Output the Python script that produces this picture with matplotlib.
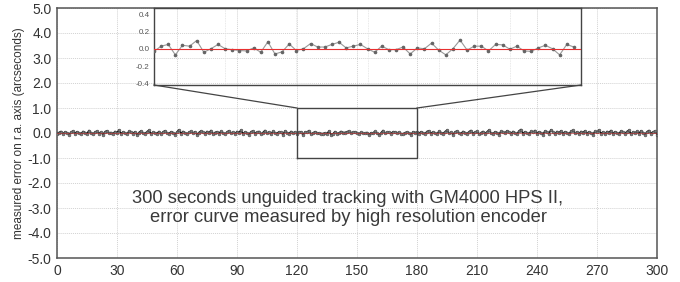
import matplotlib.pyplot as plt
import numpy as np

plt.rcParams['font.family'] = ['Liberation Sans', 'DejaVu Sans']

# error (arcsec) sampled once per second, t = 0 .. 300
err_start = [
	-0.05, 0.02, 0.06, -0.03, 0.04, 0.01, -0.06, 0.03, 0.08, -0.02, 0.05, 0.00, -0.04, 0.06, 0.02, -0.03, 0.10, 0.01, -0.05, 0.04,
	0.07, -0.02, 0.03, -0.06, 0.05, 0.09, -0.01, 0.02, -0.04, 0.06, 0.01, 0.12, -0.03, 0.04, 0.00, -0.05, 0.07, 0.03, -0.02, 0.05,
	-0.07, 0.02, 0.08, 0.00, -0.03, 0.05, 0.11, -0.04, 0.03, 0.01, -0.02, 0.06, -0.05, 0.04, 0.09, 0.00, -0.03, 0.05, 0.02, -0.06,
	0.04, 0.13, -0.02, 0.06, 0.01, -0.04, 0.03, 0.07, -0.01, 0.05, -0.06, 0.02, 0.08, 0.03, -0.03, 0.06, 0.00, 0.10, -0.04, 0.02,
	0.05, -0.02, 0.07, 0.01, -0.05, 0.04, 0.09, -0.01, 0.03, -0.04, 0.06, 0.02, 0.11, -0.03, 0.04, 0.00, -0.06, 0.05, 0.08, -0.02,
	0.03, 0.06, -0.04, 0.02, 0.10, -0.01, 0.04, -0.05, 0.07, 0.01, -0.02, 0.05, 0.03, -0.06, 0.08, 0.02, -0.03, 0.06, 0.00, 0.04,
]
# 120 .. 179 s, shown enlarged in the inset
err_zoom = [
	-0.03, 0.03, 0.05, -0.07, 0.04, 0.03, 0.095, -0.04, 0.0, 0.05,
	0.0, -0.01, -0.02, -0.025, 0.01, -0.04, 0.08, -0.06, -0.035, 0.055,
	-0.02, 0.0, 0.06, 0.02, 0.02, 0.05, 0.075, 0.01, 0.03, 0.05,
	0.0, -0.04, 0.03, -0.01, -0.01, 0.02, -0.06, 0.01, 0.0, 0.065,
	-0.015, -0.07, 0.0, 0.1, -0.015, 0.03, 0.03, -0.025, 0.05, 0.045,
	-0.005, 0.03, -0.025, -0.03, 0.01, 0.04, 0.0, -0.07, 0.05, 0.02,
]
err_end = [
	0.03, -0.02, 0.05, 0.01, -0.04, 0.06, 0.09, -0.02, 0.04, 0.00, -0.05, 0.07, 0.02, -0.03, 0.05, 0.11, -0.01, 0.03, -0.06, 0.04,
	0.08, 0.00, -0.03, 0.06, 0.02, -0.04, 0.05, 0.10, -0.02, 0.03, 0.07, -0.05, 0.01, 0.06, -0.02, 0.04, 0.12, 0.00, -0.04, 0.05,
	0.02, -0.06, 0.07, 0.03, -0.01, 0.09, 0.04, -0.03, 0.06, 0.01, -0.05, 0.08, 0.14, -0.02, 0.05, 0.00, -0.04, 0.07, 0.03, 0.10,
	-0.03, 0.05, 0.01, -0.06, 0.08, 0.03, -0.02, 0.13, 0.04, -0.04, 0.06, 0.00, 0.09, -0.03, 0.05, 0.02, -0.05, 0.07, 0.11, -0.01,
	0.04, -0.04, 0.06, 0.01, 0.09, -0.03, 0.05, 0.00, -0.06, 0.07, 0.03, 0.12, -0.02, 0.04, -0.05, 0.06, 0.02, 0.10, -0.03, 0.05,
	0.01, -0.04, 0.08, 0.03, -0.02, 0.06, 0.11, -0.05, 0.04, 0.00, 0.07, -0.03, 0.09, 0.02, -0.06, 0.05, 0.10, -0.02, 0.04, 0.08,
	-0.06,
]

xticks = [0, 30, 60, 90, 120, 150, 180, 210, 240, 270, 300]
yticks = [-5.0, -4.0, -3.0, -2.0, -1.0, 0.0, 1.0, 2.0, 3.0, 4.0, 5.0]
inset_yticks = [-0.4, -0.2, 0.0, 0.2, 0.4]
zoom_x = (120, 180)
zoom_y = (-1.0, 1.0)

ylabel = "measured error on r.a. axis (arcseconds)"
note = "300 seconds unguided tracking with GM4000 HPS II,\nerror curve measured by high resolution encoder"

err = np.array(err_start + err_zoom + err_end)
t = np.arange(len(err))
t_zoom = np.arange(zoom_x[0], zoom_x[0] + len(err_zoom))

edge = '#555555'
txt = '#333333'

fig = plt.figure(figsize=(6.8, 2.82), dpi=100)
ax = fig.add_axes([57/680, 24/282, 600/680, 250/282])

ax.plot(t, err, color='#111111', lw=1.2, marker='o', ms=2.0,
	mfc='#7a7a7a', mec='#4a4a4a', mew=0.4, zorder=3)
ax.axhline(0, color='#c03030', lw=0.6, alpha=0.7, zorder=4)

ax.set_xlim(0, 300)
ax.set_ylim(-5, 5)
ax.set_xticks(xticks)
ax.set_yticks(yticks)
ax.set_xticklabels([str(v) for v in xticks])
ax.set_yticklabels(["%.1f" % v for v in yticks])
ax.tick_params(length=0, labelsize=10, colors=txt, pad=4)
ax.grid(True, color='#d2d2d2', lw=0.7, ls=(0, (1, 1)))
for s in ax.spines.values():
	s.set_color(edge)
	s.set_linewidth(1.1)
ax.set_ylabel(ylabel, fontsize=8.5, color=txt, labelpad=2)

ax.text(145.5, -3.0, note, ha='center', va='center', fontsize=13.2,
	color='#3a3a3a', linespacing=1.1)

# zoom box on the main axes
ax.plot([zoom_x[0], zoom_x[0], zoom_x[1], zoom_x[1], zoom_x[0]],
	[zoom_y[0], zoom_y[1], zoom_y[1], zoom_y[0], zoom_y[0]],
	color='#444444', lw=1.0, zorder=5)

# inset
ins = fig.add_axes([154/680, 197/282, 427/680, 77.5/282])
ins.set_facecolor('none')
ins.plot(t_zoom, err_zoom, color='#999999', lw=0.8, marker='o', ms=1.6,
	mfc='#666666', mec='#666666', zorder=3)
ins.axhline(0, color='#e83030', lw=0.8, zorder=4)
ins.set_xlim(zoom_x[0], zoom_x[1])
ins.set_ylim(-0.417, 0.475)
ins.set_yticks(inset_yticks)
ins.set_yticklabels(["%.1f" % v for v in inset_yticks])
ins.set_xticks(np.arange(zoom_x[0], zoom_x[1] + 1, 10))
ins.set_xticklabels([])
ins.tick_params(length=0, labelsize=5.8, colors='#555555', pad=3)
ins.grid(True, axis='x', color='#e2e2e2', lw=0.6, ls=(0, (1, 1)))
for s in ins.spines.values():
	s.set_color('#444444')
	s.set_linewidth(1.0)

# connector lines from zoom box to inset corners
x0, x1 = ins.get_xlim()
y0 = ins.get_ylim()[0]
for xm, xi in [(zoom_x[0], x0), (zoom_x[1], x1)]:
	p_main = fig.transFigure.inverted().transform(ax.transData.transform((xm, zoom_y[1])))
	p_ins = fig.transFigure.inverted().transform(ins.transData.transform((xi, y0)))
	fig.add_artist(plt.Line2D([p_main[0], p_ins[0]], [p_main[1], p_ins[1]],
		transform=fig.transFigure, color='#444444', lw=0.9))

fig.savefig('out.png', dpi=100)
